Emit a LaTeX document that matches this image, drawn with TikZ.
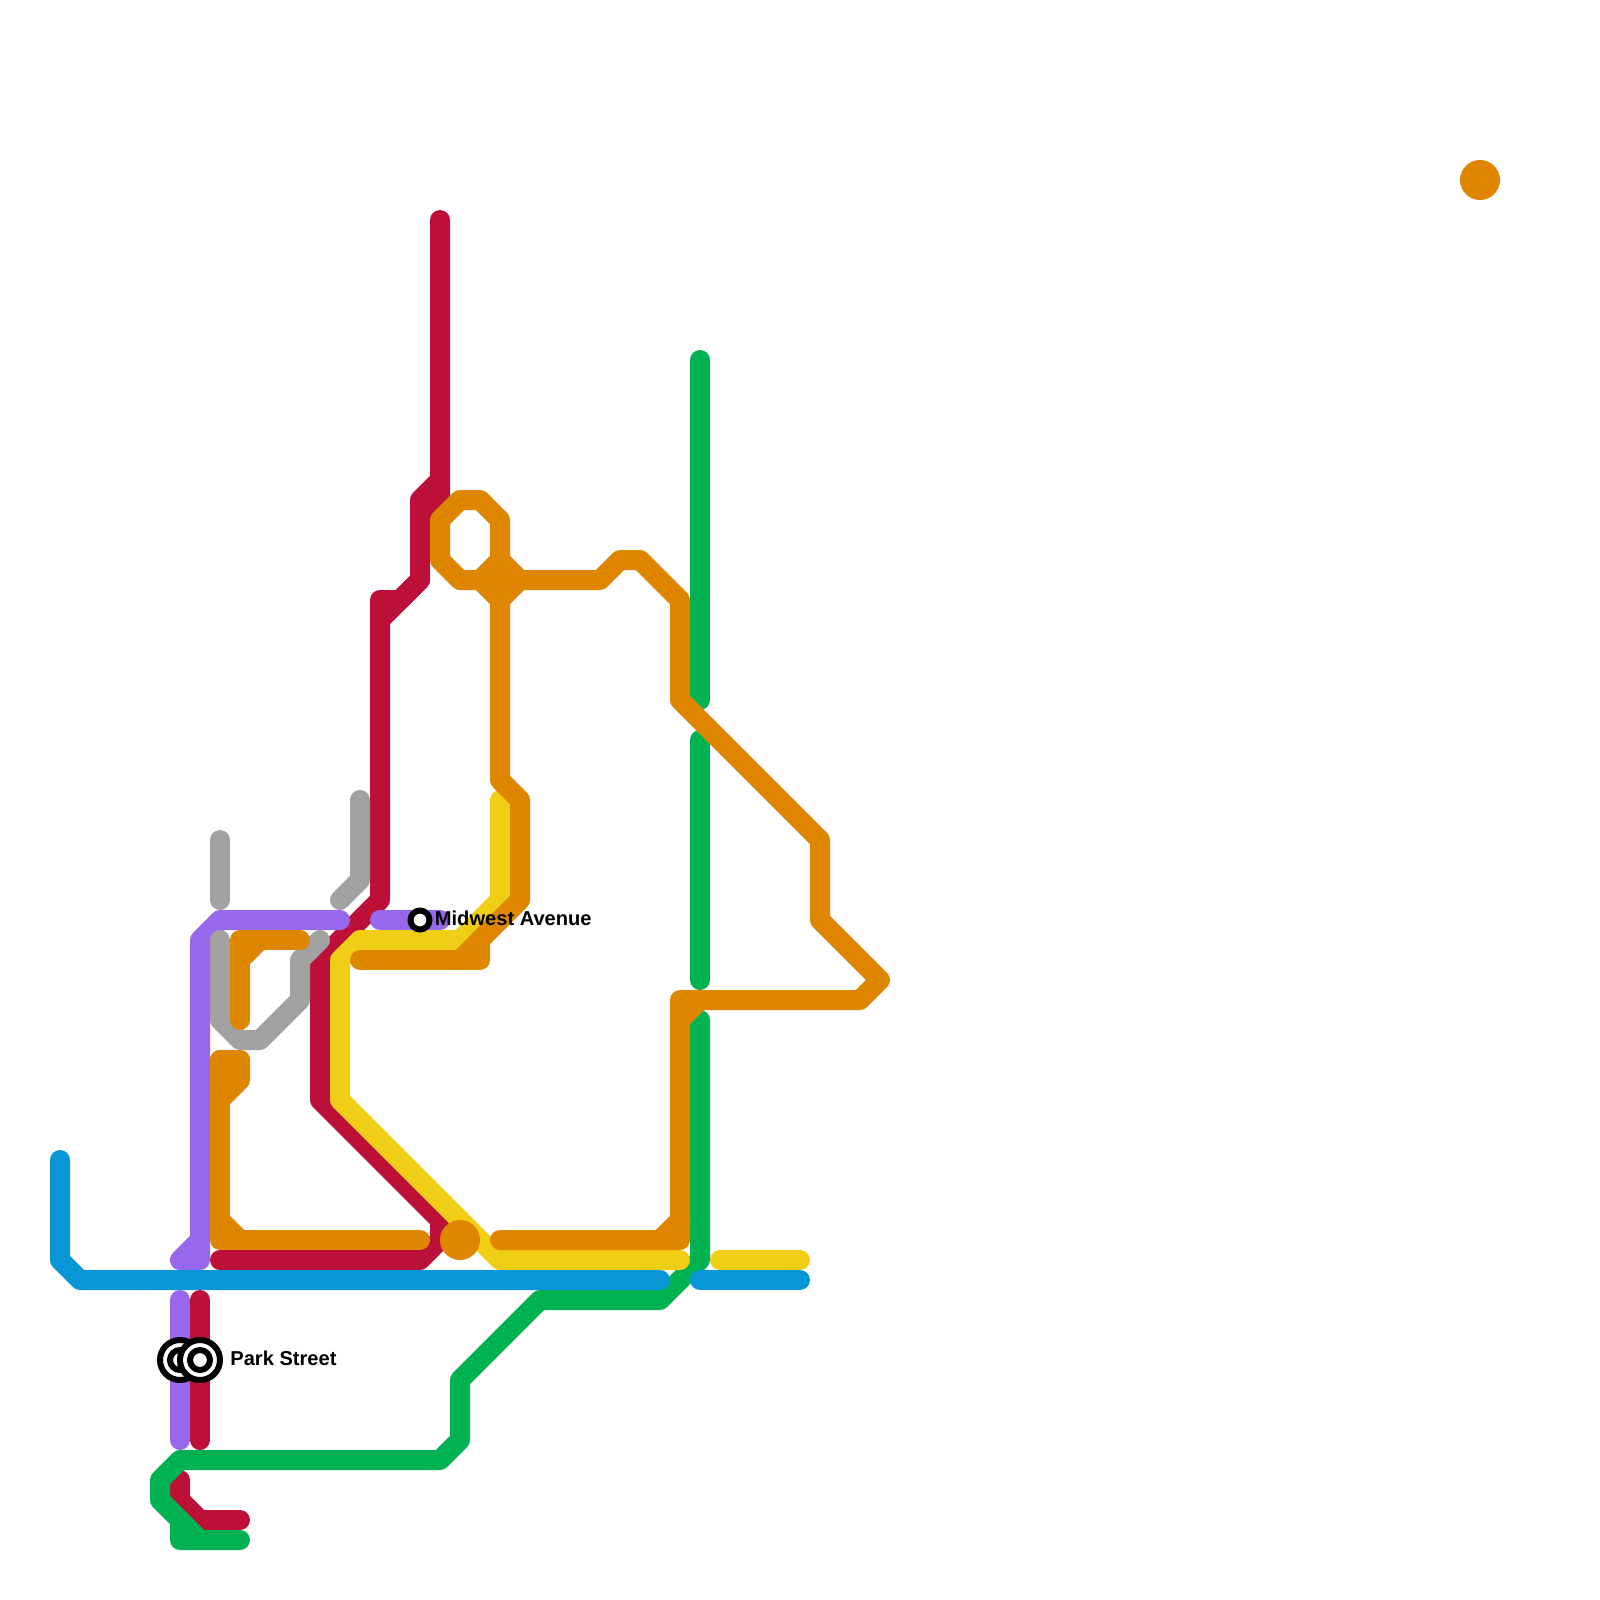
\documentclass[tikz,border=0pt]{standalone}
\usepackage{fontspec}
\setmainfont{Liberation Sans}
\definecolor{cblue}{HTML}{0896D7}
\definecolor{ccrim}{HTML}{BD1038}
\definecolor{cyell}{HTML}{F0CE15}
\definecolor{corng}{HTML}{DF8600}
\definecolor{cgreen}{HTML}{00B251}
\definecolor{cpurp}{HTML}{9768EE}
\definecolor{cgray}{HTML}{A2A2A2}
\tikzset{
  metro/.style={line width=10pt,line cap=round,line join=round},
  stnlabel/.style={font=\bfseries\fontsize{10.05}{12}\selectfont,text=black,anchor=base west,inner sep=0pt},
  bigdot/.style={fill=corng,circle,draw=none,minimum size=20pt,inner sep=0pt,outer sep=0pt},
  ring/.style={draw=black,fill=white,circle,line width=3pt,inner sep=0pt,outer sep=0pt},
}
\begin{document}
\begin{tikzpicture}[x=0.5pt,y=-0.5pt]
\useasboundingbox (0,0) rectangle (1600,1600);
\fill[white] (0,0) rectangle (1600,1600);
% crimson
\draw[metro,ccrim] (440,220)--(440,500)--(420,520);
\draw[metro,ccrim] (440,480)--(420,500)--(420,580)--(400,600)--(380,600)--(380,900)--(320,960)--(320,1100)--(440,1220)--(440,1240)--(420,1260)--(220,1260);
\draw[metro,ccrim] (420,580)--(380,620);
\draw[metro,ccrim] (200,1300)--(200,1440);
\draw[metro,ccrim] (180,1480)--(180,1500)--(200,1520)--(240,1520);
% purple
\draw[metro,cpurp] (340,920)--(220,920)--(200,940)--(200,1260)--(180,1260)--(200,1240);
\draw[metro,cpurp] (380,920)--(440,920);
\draw[metro,cpurp] (180,1300)--(180,1440);
% gray
\draw[metro,cgray] (220,840)--(220,900);
\draw[metro,cgray] (360,800)--(360,880)--(340,900);
\draw[metro,cgray] (220,940)--(220,1020)--(240,1040)--(260,1040)--(300,1000)--(300,960)--(320,940);
% green
\draw[metro,cgreen] (700,360)--(700,700);
\draw[metro,cgreen] (700,740)--(700,980);
\draw[metro,cgreen] (240,1540)--(180,1540)--(180,1520)--(160,1500)--(160,1480)--(180,1460)--(440,1460)--(460,1440)--(460,1380)--(540,1300)--(660,1300)--(700,1260)--(700,1020);
\draw[metro,cgreen] (180,1520)--(200,1540);
% yellow
\draw[metro,cyell] (500,800)--(500,900)--(460,940)--(360,940)--(340,960)--(340,1100)--(500,1260)--(680,1260);
\draw[metro,cyell] (720,1260)--(800,1260);
% orange
\draw[metro,corng] (300,940)--(240,940)--(240,1020);
\draw[metro,corng] (240,960)--(260,940);
\draw[metro,corng] (240,1060)--(220,1060)--(220,1240)--(420,1240);
\draw[metro,corng] (220,1060)--(240,1060)--(240,1080)--(220,1100);
\draw[metro,corng] (220,1220)--(240,1240);
\draw[metro,corng] (360,960)--(480,960)--(480,940);
\draw[metro,corng] (460,960)--(520,900)--(520,800)--(500,780)--(500,520)--(480,500)--(460,500)--(440,520)--(440,560)--(460,580)--(600,580)--(620,560)--(640,560)--(680,600)--(680,700)--(820,840)--(820,920)--(880,980)--(860,1000)--(680,1000)--(680,1240)--(500,1240);
\draw[metro,corng] (480,580)--(500,560)--(520,580)--(500,600)--cycle;
\draw[metro,corng] (680,1020)--(700,1000);
\draw[metro,corng] (660,1240)--(680,1220);
\node[bigdot] (dotA) at (1480,180) {};
\node[bigdot] (dotB) at (460,1240) {};
% blue
\draw[metro,cblue] (60,1160)--(60,1260)--(80,1280)--(660,1280);
\draw[metro,cblue] (700,1280)--(800,1280);
% stations
\node[ring,minimum size=20pt] (stA) at (180,1360) {};
\node[ring,minimum size=10pt] (stAi) at (180,1360) {};
\node[ring,minimum size=20pt] (stB) at (200,1360) {};
\node[ring,minimum size=10pt] (stBi) at (200,1360) {};
\node[ring,minimum size=9.5pt] (stC) at (420,920) {};
\node[stnlabel] (lbC) at (434.5,925) {Midwest Avenue};
\node[stnlabel] (lbB) at (230,1365) {Park Street};
\end{tikzpicture}
\end{document}
